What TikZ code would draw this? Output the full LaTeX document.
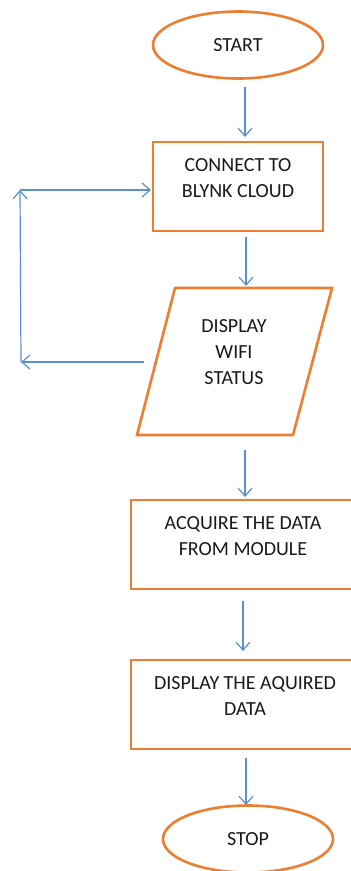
\documentclass[tikz,border=0pt]{standalone}
\usepackage{fontspec}
\setmainfont{Carlito}
\usetikzlibrary{arrows.meta,shapes.geometric}
\definecolor{boxorange}{HTML}{ED7D31}
\definecolor{flowblue}{HTML}{5B8FD0}
\begin{document}
\begin{tikzpicture}[x=1pt,y=-1pt,
  every node/.style={font=\fontsize{20}{26}\selectfont, text=black!90, align=center},
  terminal/.style={draw=boxorange, line width=2.6pt, ellipse, minimum width=170pt, minimum height=67pt, inner sep=0pt},
  process/.style={draw=boxorange, line width=2.6pt, rectangle, inner sep=0pt},
  flow/.style={draw=flowblue, line width=1.2pt, -{Straight Barb[length=8pt,width=14pt,line width=1.2pt]}}]
  \useasboundingbox (0,0) rectangle (351,871);

  % terminals
  \node[terminal] (start) at (238,45) {START};
  \node[terminal] (stop) at (248,839) {STOP};

  % process boxes
  \draw[process] (153,142) rectangle (323,231);
  \node (connect) at (238,178) {CONNECT TO\\BLYNK CLOUD};

  \draw[process] (131,500) rectangle (356,589);
  \node (acquire) at (243,536) {ACQUIRE THE DATA\\FROM MODULE};

  \draw[process] (131,660) rectangle (356,749);
  \node (show) at (245,696) {DISPLAY THE AQUIRED\\DATA};

  % input/output parallelogram
  \draw[process, line join=miter] (175,288) -- (332,288) -- (293,435) -- (137,435) -- cycle;
  \node (wifi) at (234,352) {DISPLAY\\WIFI\\STATUS};

  % connector end points
  \coordinate (a1) at (245,87);   \coordinate (b1) at (245,137);
  \coordinate (a2) at (246,237);  \coordinate (b2) at (246,286);
  \coordinate (a3) at (245,450);  \coordinate (b3) at (245,497);
  \coordinate (a4) at (243,601);  \coordinate (b4) at (243,651);
  \coordinate (a5) at (246,758);  \coordinate (b5) at (246,805);
  \coordinate (loopStart) at (144,362);
  \coordinate (loopCorner) at (21,362);
  \coordinate (loopTop) at (20,190);
  \coordinate (loopEnd) at (151,190);

  \draw[flow] (a1) -- (b1);
  \draw[flow] (a2) -- (b2);
  \draw[flow] (a3) -- (b3);
  \draw[flow] (a4) -- (b4);
  \draw[flow] (a5) -- (b5);
  \draw[flow] (loopStart) -- (loopCorner);
  \draw[flow] (loopCorner) -- (loopTop);
  \draw[flow] (loopTop) -- (loopEnd);
\end{tikzpicture}
\end{document}
